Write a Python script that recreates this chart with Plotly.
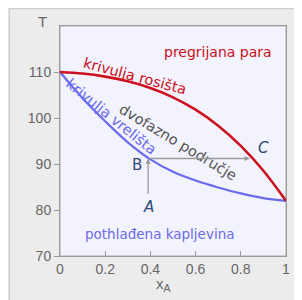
import plotly.graph_objects as go

# Dew-point curve (krivulja rosišta)
x_dew = [0, 0.1, 0.2, 0.3, 0.4, 0.5, 0.6, 0.7, 0.8, 0.9, 1.0]
T_dew = [110, 109.66, 108.99, 107.98, 106.52, 104.5, 101.8, 98.32, 93.94, 88.54, 82]
# Bubble-point curve (krivulja vrelišta)
x_bub = [0, 0.1, 0.2, 0.3, 0.4, 0.5, 0.6, 0.7, 0.8, 0.9, 1.0]
T_bub = [110, 104.3, 99.3, 94.7, 91.0, 88.3, 86.4, 84.9, 83.6, 82.6, 82]

x_ticks = [0, 0.2, 0.4, 0.6, 0.8, 1]
x_ticktext = ["0", "0.2", "0.4", "0.6", "0.8", "1"]
y_ticks = [70, 80, 90, 100, 110]

# Process path A -> B -> C
x_A, T_A = 0.39, 83.2
x_B, T_B = 0.39, 91.2
x_C, T_C = 0.84, 91.2

RED = "#cc1020"
BLUE = "#6b6bef"
LBL = "#2f4a78"
FONT = "Comic Sans MS, DejaVu Sans"

W, H = 294, 292
ML, MR, MT, MB = 52, 12, 18, 44
PW, PH = W - ML - MR, H - MT - MB

fig = go.Figure()
fig.add_trace(go.Scatter(x=x_bub, y=T_bub, mode="lines", line=dict(color=BLUE, width=2.2, shape="spline"), hoverinfo="skip"))
fig.add_trace(go.Scatter(x=x_dew, y=T_dew, mode="lines", line=dict(color=RED, width=2.6, shape="spline"), hoverinfo="skip"))

ann = []
def txt(x, y, s, color, angle=0, size=14):
    ann.append(dict(x=x, y=y, xref="x", yref="y", text=s, showarrow=False,
                    textangle=angle, font=dict(family=FONT, size=size, color=color)))

txt(0.70, 114.3, "pregrijana para", RED, size=14)
txt(0.33, 109.2, "krivulja rosišta", RED, angle=15, size=14.5)
txt(0.23, 100.3, "krivulja vrelišta", BLUE, angle=39, size=14.5)
txt(0.52, 94.8, "dvofazno područje", "#555555", angle=31, size=14.5)
txt(0.443, 74.8, "pothlađena kapljevina", BLUE, size=13.5)
txt(0.90, 93.5, "<i>C</i>", LBL, size=15)
txt(0.34, 89.8, "B", LBL, size=15)
txt(0.39, 80.7, "<i>A</i>", LBL, size=15)

# arrows
ann.append(dict(x=x_B, y=T_B, ax=x_A, ay=T_A, xref="x", yref="y", axref="x", ayref="y", text="",
                showarrow=True, arrowhead=2, arrowsize=0.8, arrowwidth=1.3, arrowcolor="#9a9a9a"))
ann.append(dict(x=x_C, y=T_C, ax=x_B, ay=T_B, xref="x", yref="y", axref="x", ayref="y", text="",
                showarrow=True, arrowhead=2, arrowsize=0.8, arrowwidth=1.3, arrowcolor="#9a9a9a"))

# axis titles
ann.append(dict(x=-0.108, y=1.065, xref="paper", yref="paper", text="T", showarrow=False,
                font=dict(family="Liberation Sans, Arial", size=15, color="#666666")))
ann.append(dict(x=0.457, y=-0.172, xref="paper", yref="paper", text="x<sub>A</sub>", showarrow=False,
                font=dict(family="Liberation Sans, Arial", size=15, color="#666666")))

shapes = [
    dict(type="rect", xref="paper", yref="paper", x0=-ML / PW + 0.002, x1=1 + MR / PW + 0.01,
         y0=-MB / PH - 0.01, y1=1 + MT / PH - 0.002,
         fillcolor="rgba(0,0,0,0)", line=dict(color="#cfcfcf", width=1.5), layer="below"),
    dict(type="rect", xref="paper", yref="paper", x0=0, x1=1, y0=0, y1=1,
         fillcolor="#f3f3fd", line=dict(color="#aaaaaa", width=1), layer="below"),
]

fig.update_layout(
    width=W, height=H,
    margin=dict(l=ML, r=MR, t=MT, b=MB),
    paper_bgcolor="#ececec", plot_bgcolor="rgba(0,0,0,0)",
    showlegend=False,
    annotations=ann, shapes=shapes,
    xaxis=dict(range=[0, 1], tickvals=x_ticks, ticktext=x_ticktext, ticks="inside", ticklen=5,
               tickcolor="#999999", showgrid=False, zeroline=False, showline=True, linecolor="#999999",
               mirror=True, tickfont=dict(family="Liberation Sans, Arial", size=14, color="#666666")),
    yaxis=dict(range=[70, 120], tickvals=y_ticks, ticks="outside", ticklen=5, tickcolor="#999999",
               showgrid=False, zeroline=False, showline=True, linecolor="#999999", mirror=True,
               tickfont=dict(family="Liberation Sans, Arial", size=14, color="#666666")),
)

fig.write_html("out.html")
